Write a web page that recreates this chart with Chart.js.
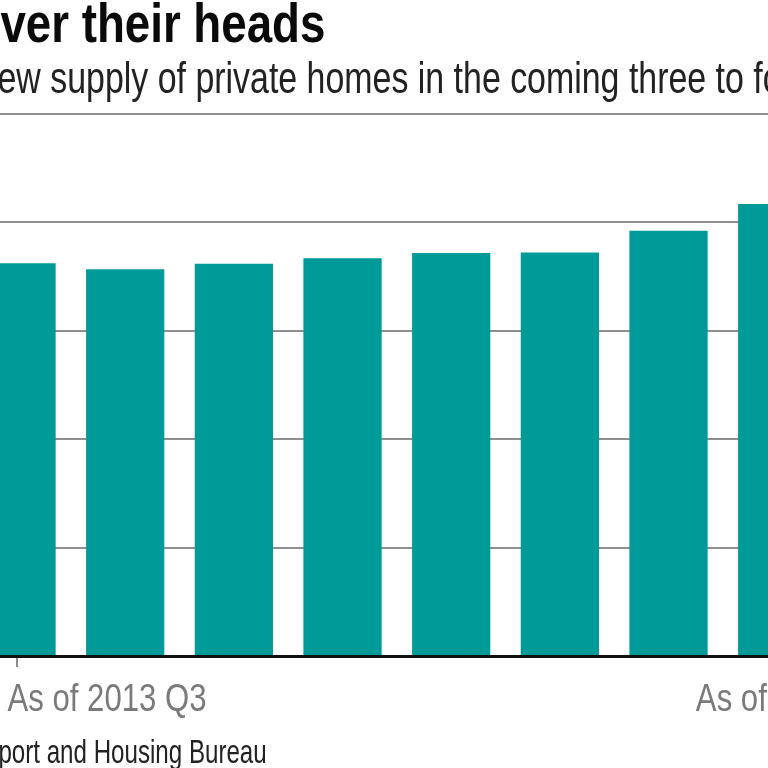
<!DOCTYPE html>
<html>
<head>
<meta charset="utf-8">
<script src="https://cdn.jsdelivr.net/npm/chart.js@4.4.1/dist/chart.umd.min.js"></script>
<style>
  html, body { margin: 0; padding: 0; width: 768px; height: 768px; overflow: hidden; background: #fff; }
  body { position: relative; font-family: "Liberation Sans", Arial, sans-serif; }
  #wrap { position: absolute; left: -100px; top: 0; width: 1060px; height: 768px; }
  .txt { position: absolute; white-space: nowrap; }
  #title { right: 443px; top: -3.6px; font-size: 55px; line-height: 55px; font-weight: bold; color: #0a0a0a; transform-origin: right center; }
  #subtitle { left: 0; top: 55.8px; font-size: 44px; line-height: 44px; color: #222; transform-origin: left center; }
  #source { right: 501px; top: 734px; font-size: 34px; line-height: 34px; color: #222; transform-origin: right center; }
</style>
</head>
<body>
<div id="wrap"><canvas id="c" width="1060" height="768"></canvas></div>
<div id="title" class="txt">Roof o<span id="titleVis">ver their heads</span></div>
<div id="subtitle" class="txt"><span id="subLead">Projected new </span><span id="subVis">supply of private homes in the coming three to </span>four years</div>
<div id="source" class="txt">Source: Transport <span id="srcVis">and Housing Bureau</span></div>
<script>
// Data
const categories = ["2013 Q3", "2013 Q4", "2014 Q1", "2014 Q2", "2014 Q3", "2014 Q4", "2015 Q1", "2015 Q2", "2015 Q3"];
const supply = [72400, 71300, 72300, 73300, 74300, 74400, 78400, 83300, 86000];
const xTickLabels = ["As of 2013 Q3", "", "", "", "", "", "", "", "As of 2015 Q3"];
const yTicks = [0, 20000, 40000, 60000, 80000, 100000];

// condense text horizontally to match the narrow typeface of the original
function condense(elId, visId, target) {
  const el = document.getElementById(elId);
  const w = document.getElementById(visId).getBoundingClientRect().width;
  const k = target / w;
  el.style.transform = 'scaleX(' + k + ')';
  return k;
}
condense('title', 'titleVis', 325);
condense('source', 'srcVis', 220);
const sk = condense('subtitle', 'subVis', 703);
const leadW = document.getElementById('subLead').getBoundingClientRect().width; // already scaled
document.getElementById('subtitle').style.left = (50 - leadW) + 'px';

const labelFont = '39px "Liberation Sans", Arial, sans-serif';
const labelWidth = 199;

const edgeLabels = {
  id: 'edgeLabels',
  afterDraw(chart) {
    const x = chart.scales.x;
    const ctx = chart.ctx;
    const last = xTickLabels.length - 1;
    xTickLabels.forEach((t, i) => {
      if (!t) return;
      ctx.save();
      ctx.font = labelFont;
      ctx.fillStyle = '#7a7a7a';
      ctx.textBaseline = 'alphabetic';
      const k = labelWidth / ctx.measureText(xTickLabels[0]).width;
      const px = x.getPixelForValue(i);
      let ax, align;
      if (i === 0) { ax = px - 9; align = 'left'; }
      else if (i === last) { ax = px + 9; align = 'right'; }
      else { ax = px; align = 'center'; }
      ctx.translate(ax, 711);
      ctx.scale(k, 1);
      ctx.textAlign = align;
      ctx.fillText(t, 0, 0);
      ctx.restore();
    });
  }
};

new Chart(document.getElementById('c'), {
  type: 'bar',
  data: {
    labels: categories,
    datasets: [{
      data: supply,
      backgroundColor: '#009a98',
      borderWidth: 0,
      barPercentage: 0.72,
      categoryPercentage: 1.0
    }]
  },
  options: {
    responsive: false,
    animation: false,
    events: [],
    layout: { padding: { left: 62.2, right: 19.8, top: 113.5, bottom: 101 } },
    plugins: { legend: { display: false }, tooltip: { enabled: false }, title: { display: false } },
    scales: {
      x: {
        offset: true,
        ticks: { display: false },
        grid: {
          offset: false,
          drawOnChartArea: false,
          drawTicks: true,
          tickLength: 11,
          lineWidth: 2,
          color: (c) => (xTickLabels[c.index] ? '#8a8a8a' : 'rgba(0,0,0,0)')
        },
        border: { display: true, color: '#111', width: 3 }
      },
      y: {
        min: yTicks[0],
        max: yTicks[yTicks.length - 1],
        afterBuildTicks: (s) => { s.ticks = yTicks.map(v => ({ value: v })); },
        ticks: { display: false },
        grid: { color: '#8f8f8f', lineWidth: 2, drawTicks: false },
        border: { display: false }
      }
    }
  },
  plugins: [edgeLabels]
});
</script>
</body>
</html>
